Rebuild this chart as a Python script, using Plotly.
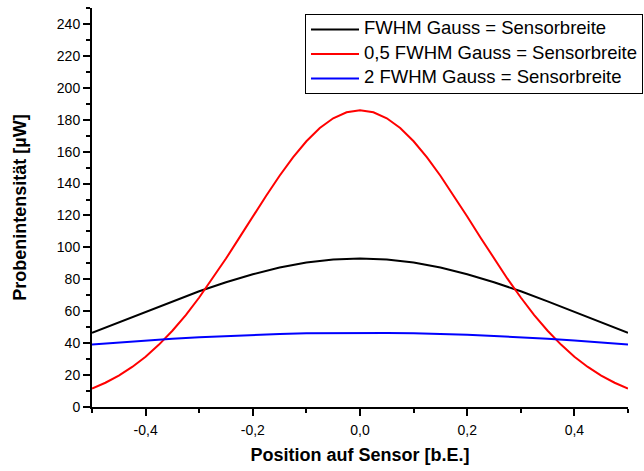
import plotly.graph_objects as go

# Data
x_coarse = [-0.5, -0.45, -0.4, -0.35, -0.3, -0.25, -0.2, -0.15, -0.1, -0.05, 0.0,
            0.05, 0.1, 0.15, 0.2, 0.25, 0.3, 0.35, 0.4, 0.45, 0.5]
fwhm_1 = [46.5, 53.1, 59.7, 66.2, 72.5, 78.2, 83.2, 87.4, 90.5, 92.4, 93.0,
          92.4, 90.5, 87.4, 83.2, 78.2, 72.5, 66.2, 59.7, 53.1, 46.5]
fwhm_2 = [39.1, 40.4, 41.6, 42.7, 43.7, 44.5, 45.2, 45.8, 46.2, 46.4, 46.5,
          46.4, 46.2, 45.8, 45.2, 44.5, 43.7, 42.7, 41.6, 40.4, 39.1]

x_fine = [-0.5, -0.475, -0.45, -0.425, -0.4, -0.375, -0.35, -0.325, -0.3, -0.275,
          -0.25, -0.225, -0.2, -0.175, -0.15, -0.125, -0.1, -0.075, -0.05, -0.025,
          0.0, 0.025, 0.05, 0.075, 0.1, 0.125, 0.15, 0.175, 0.2, 0.225, 0.25,
          0.275, 0.3, 0.325, 0.35, 0.375, 0.4, 0.425, 0.45, 0.475, 0.5]
fwhm_05 = [11.6, 15.2, 19.7, 25.1, 31.5, 39.1, 47.8, 57.6, 68.6, 80.4,
           93.0, 106.1, 119.4, 132.4, 144.9, 156.4, 166.5, 174.8, 180.9, 184.7,
           186.0, 184.7, 180.9, 174.8, 166.5, 156.4, 144.9, 132.4, 119.4, 106.1, 93.0,
           80.4, 68.6, 57.6, 47.8, 39.1, 31.5, 25.1, 19.7, 15.2, 11.6]

names = ["FWHM Gauss = Sensorbreite", "0,5 FWHM Gauss = Sensorbreite",
         "2 FWHM Gauss = Sensorbreite"]
x_ticks = [-0.4, -0.2, 0.0, 0.2, 0.4]
x_ticktext = ["-0,4", "-0,2", "0,0", "0,2", "0,4"]
y_ticks = [0, 20, 40, 60, 80, 100, 120, 140, 160, 180, 200, 220, 240]

FONT = "Liberation Sans, Arial, sans-serif"


def legend_label(t):
    return '<span style="font-size:18.5px">' + t + '</span>'


fig = go.Figure()
fig.add_trace(go.Scatter(x=x_coarse, y=fwhm_1, mode="lines", name=legend_label(names[0]),
                         legendgroup="g1", line=dict(color="black", width=2)))
fig.add_trace(go.Scatter(x=x_fine, y=fwhm_05, mode="lines", name=legend_label(names[1]),
                         legendgroup="g2", line=dict(color="red", width=2)))
fig.add_trace(go.Scatter(x=x_coarse, y=fwhm_2, mode="lines", name=legend_label(names[2]),
                         legendgroup="g3", line=dict(color="blue", width=2)))

fig.update_layout(
    width=644, height=471,
    margin=dict(l=92, r=16, t=8, b=64, autoexpand=False),
    paper_bgcolor="white", plot_bgcolor="white",
    font=dict(family=FONT, color="black", size=14),
    showlegend=True,
    legend=dict(x=1.028, y=0.985, xanchor="right", yanchor="top",
                bordercolor="black", borderwidth=1, bgcolor="white",
                font=dict(size=12, family=FONT), tracegroupgap=5.5,
                itemwidth=48),
)
fig.update_xaxes(
    range=[-0.5, 0.5], tickvals=x_ticks, ticktext=x_ticktext,
    showline=True, linecolor="black", linewidth=2,
    ticks="outside", ticklen=7, tickwidth=1.5, tickcolor="black",
    showgrid=False, zeroline=False,
    minor=dict(tickvals=[-0.5, -0.3, -0.1, 0.1, 0.3, 0.5], ticks="outside",
               ticklen=4, tickwidth=1.5, tickcolor="black", showgrid=False),
    tickfont=dict(size=14), ticklabelstandoff=2,
    title=dict(text="<b>Position auf Sensor [b.E.]</b>", font=dict(size=18), standoff=12),
)
fig.update_yaxes(
    range=[0, 250], tickvals=y_ticks,
    showline=True, linecolor="black", linewidth=2,
    ticks="outside", ticklen=7, tickwidth=1.5, tickcolor="black",
    showgrid=False, zeroline=False,
    minor=dict(dtick=10, tick0=0, ticks="outside", ticklen=4, tickwidth=1.5,
               tickcolor="black", showgrid=False),
    tickfont=dict(size=14),
    title=dict(text="<b>Probenintensität [µW]</b>", font=dict(size=18), standoff=26),
)

fig.write_html("out.html")
